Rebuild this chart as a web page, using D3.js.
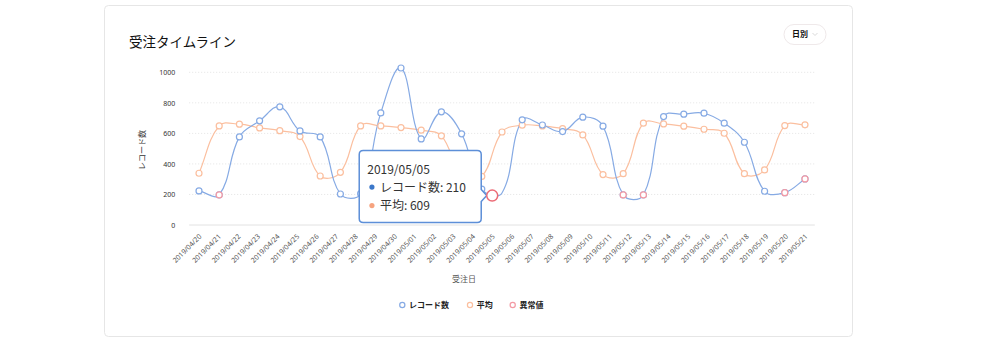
<!DOCTYPE html>
<html><head><meta charset="utf-8">
<script src="https://cdn.jsdelivr.net/npm/d3@7/dist/d3.min.js"></script>
<style>
html,body{margin:0;padding:0;background:#fff;}
svg{display:block;font-family:"Noto Sans CJK JP","Noto Sans",sans-serif;}
</style></head><body>
<svg id="chart" width="1000" height="340"></svg>
<script>
// ---- data ----
const axisDates = ["2019/04/20","2019/04/21","2019/04/22","2019/04/23","2019/04/24","2019/04/25","2019/04/26","2019/04/27","2019/04/28","2019/04/29","2019/04/30","2019/05/01","2019/05/02","2019/05/03","2019/05/04","2019/05/05","2019/05/06","2019/05/07","2019/05/08","2019/05/09","2019/05/10","2019/05/11","2019/05/12","2019/05/13","2019/05/14","2019/05/15","2019/05/16","2019/05/17","2019/05/18","2019/05/19","2019/05/20","2019/05/21"];
const dataDates = axisDates.slice(0, 31);
const recordCounts = [223,197,577,682,774,616,577,203,205,734,1028,564,741,597,235,210,689,655,612,706,647,197,197,710,726,732,667,542,221,212,302];
const averages = [339,649,660,636,618,579,321,345,649,649,638,621,584,330,318,609,654,649,631,590,330,336,667,662,647,627,601,336,361,651,656];
const anomalyDates = ["2019/04/21","2019/05/11","2019/05/12","2019/05/19","2019/05/20"];
const hoverDate = "2019/05/05";
const yTicks = [0,200,400,600,800,1000];
const chartTitle = "受注タイムライン";
const seriesNames = ["レコード数","平均","異常値"];
const yTitle = "レコード数";
const xTitle = "受注日";
const periodLabel = "日別";

// ---- styles ----
const C = {blue:"#86aae4", orange:"#fbbf9f", red:"#f39aa4", hover:"#ec6b76",
           tipBorder:"#5d8fd8", tipBlue:"#3b77c9", tipOrange:"#f6a37f"};

const svg = d3.select("#chart");
const plot = {left:189.2, right:814.8, top:72.3, bottom:225};
const y = d3.scaleLinear().domain([0,1000]).range([plot.bottom, plot.top]);
const xAxisScale = d3.scaleBand().domain(axisDates).range([plot.left, plot.right]);
const xData = d3.scalePoint().domain(dataDates).range([199, 805]);

// card
svg.append("rect").attr("x",104.5).attr("y",5.5).attr("width",748).attr("height",331)
  .attr("rx",4).attr("fill","#fff").attr("stroke","#e6e6e6");
svg.append("text").attr("x",129).attr("y",47).attr("font-size",13.5).attr("fill","#111").text(chartTitle);

// dropdown
svg.append("rect").attr("x",784).attr("y",24.5).attr("width",42).attr("height",20).attr("rx",10)
  .attr("fill","#fff").attr("stroke","#efe9ea");
svg.append("text").attr("x",792).attr("y",37.3).attr("font-size",8).attr("font-weight","bold").attr("fill","#111").text(periodLabel);
svg.append("path").attr("d","M812.5,33 L815,35.5 L817.5,33").attr("fill","none").attr("stroke","#cfcfcf").attr("stroke-width",0.8);

// grid
svg.append("g").selectAll("line").data(yTicks.filter(v=>v>0)).join("line")
  .attr("x1",plot.left).attr("x2",plot.right).attr("y1",d=>y(d)).attr("y2",d=>y(d))
  .attr("stroke","#e3e3e3").attr("stroke-dasharray","1,2");
svg.append("line").attr("x1",plot.left).attr("x2",plot.right).attr("y1",y(0)).attr("y2",y(0))
  .attr("stroke","#e2e2e2");

// y axis
const yAxis = svg.append("g").attr("transform",`translate(${plot.left},0)`)
  .call(d3.axisLeft(y).tickValues(yTicks).tickFormat(d3.format("d")).tickSize(0).tickPadding(14));
yAxis.select(".domain").remove();
yAxis.selectAll("text").attr("font-size",7).attr("fill","#333").attr("font-family","'Noto Sans',sans-serif");
svg.append("text").attr("transform","translate(145,150) rotate(-90)").attr("text-anchor","middle")
  .attr("font-size",8).attr("fill","#333").text(yTitle);

// x axis
const xAxis = svg.append("g").attr("transform",`translate(0,${plot.bottom})`)
  .call(d3.axisBottom(xAxisScale).tickSize(0).tickPadding(0));
xAxis.select(".domain").remove();
xAxis.selectAll("text").attr("font-size",7).attr("fill","#555").attr("font-family","'Noto Sans',sans-serif")
  .attr("text-anchor","end").attr("dy",0).attr("y",0)
  .attr("transform","translate(3,12) rotate(-45)");
svg.append("text").attr("x",464).attr("y",282).attr("text-anchor","middle").attr("font-size",8)
  .attr("fill","#555").text(xTitle);

// smooth path (tension-based bezier)
function smoothPath(pts, t){
  const cps = pts.map((p,i)=>{
    const prev = pts[i-1]||p, next = pts[i+1]||p;
    const d01 = Math.hypot(p[0]-prev[0],p[1]-prev[1]), d12 = Math.hypot(next[0]-p[0],next[1]-p[1]);
    const sum = (d01+d12)||1, vx = next[0]-prev[0], vy = next[1]-prev[1];
    return {ix:p[0]-t*d01/sum*vx, iy:p[1]-t*d01/sum*vy, ox:p[0]+t*d12/sum*vx, oy:p[1]+t*d12/sum*vy};
  });
  let d = `M${pts[0][0]},${pts[0][1]}`;
  for (let i=1;i<pts.length;i++)
    d += `C${cps[i-1].ox},${cps[i-1].oy},${cps[i].ix},${cps[i].iy},${pts[i][0]},${pts[i][1]}`;
  return d;
}
const bluePts = dataDates.map((d,i)=>[xData(d), y(recordCounts[i])]);
const orangePts = dataDates.map((d,i)=>[xData(d), y(averages[i])]);

svg.append("path").attr("d",smoothPath(orangePts,0.4)).attr("fill","none").attr("stroke",C.orange).attr("stroke-width",1.2);
const bluePath = svg.append("path").attr("d",smoothPath(bluePts,0.4)).attr("fill","none").attr("stroke",C.blue).attr("stroke-width",1.2);

function dots(pts, color){
  svg.append("g").selectAll("circle").data(pts).join("circle")
    .attr("cx",d=>d[0]).attr("cy",d=>d[1]).attr("r",3)
    .attr("fill","#fff").attr("stroke",color).attr("stroke-width",1.2);
}
dots(orangePts, C.orange);
// the hovered record point is drawn by the hover marker instead
dots(bluePts.filter((p,i)=>dataDates[i]!==hoverDate), C.blue);
dots(anomalyDates.map(d=>[xData(d), y(recordCounts[dataDates.indexOf(d)])]), C.red);

// legend
const legendX = [402.3, 470, 512.7];
const legendC = [C.blue, C.orange, C.red];
const lg = svg.append("g");
seriesNames.forEach((n,i)=>{
  lg.append("circle").attr("cx",legendX[i]).attr("cy",305).attr("r",2.6).attr("fill","#fff")
    .attr("stroke",legendC[i]).attr("stroke-width",1.2);
  lg.append("text").attr("x",legendX[i]+6.7).attr("y",308).attr("font-size",8).attr("font-weight","bold")
    .attr("fill","#222").text(n);
});

// hover marker: on the record line, at the axis position of the hovered date
const hi = dataDates.indexOf(hoverDate);
const hx = xAxisScale(hoverDate) + xAxisScale.bandwidth()/2;
const node = bluePath.node();
let lo = 0, up = node.getTotalLength();
for (let k=0;k<40;k++){ const m=(lo+up)/2; if (node.getPointAtLength(m).x < hx) lo=m; else up=m; }
const hy = node.getPointAtLength(lo).y;

const tip = svg.append("g");
const L = hx-133, R = hx-11, T = hy-45, B = hy+27, r = 4;
tip.append("path").attr("d",
  `M${L+r},${T} H${R-r} Q${R},${T} ${R},${T+r} V${hy-6} L${hx-5.5},${hy} L${R},${hy+6} V${B-r} Q${R},${B} ${R-r},${B} H${L+r} Q${L},${B} ${L},${B-r} V${T+r} Q${L},${T} ${L+r},${T} Z`)
  .attr("fill","#fff").attr("stroke",C.tipBorder).attr("stroke-width",1.5);
tip.append("text").attr("x",hx-125).attr("y",hy-22).attr("font-size",12).attr("fill","#333").text(hoverDate);
tip.append("circle").attr("cx",hx-120.3).attr("cy",hy-8.5).attr("r",2.6).attr("fill",C.tipBlue);
tip.append("text").attr("x",hx-112.3).attr("y",hy-4).attr("font-size",12).attr("fill","#333")
  .text(`${seriesNames[0]}: ${recordCounts[hi]}`);
tip.append("circle").attr("cx",hx-120.3).attr("cy",hy+10).attr("r",2.6).attr("fill",C.tipOrange);
tip.append("text").attr("x",hx-112.3).attr("y",hy+14.5).attr("font-size",12).attr("fill","#333")
  .text(`${seriesNames[1]}: ${averages[hi]}`);
svg.append("circle").attr("cx",hx).attr("cy",hy).attr("r",5.5).attr("fill","#fff")
  .attr("stroke",C.hover).attr("stroke-width",1.5);
</script></body></html>
